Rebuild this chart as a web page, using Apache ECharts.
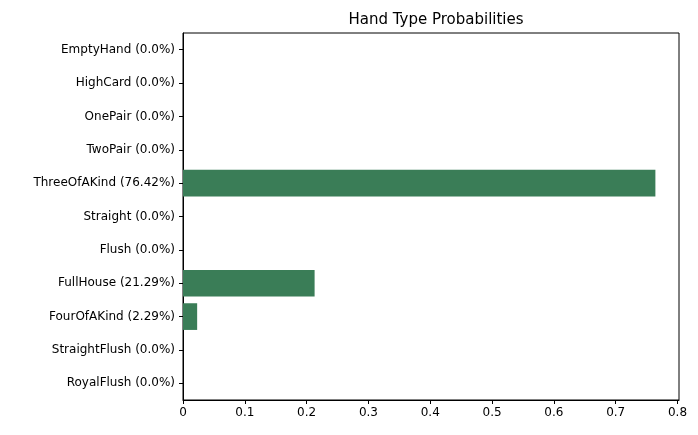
<!DOCTYPE html>
<html><head><meta charset="utf-8">
<script src="https://cdn.jsdelivr.net/npm/echarts@6/dist/echarts.min.js"></script>
<style>html,body{margin:0;padding:0;background:#fff}#c{width:698px;height:435px}</style>
</head><body><div id="c"></div>
<script>
const categories = ["EmptyHand (0.0%)","HighCard (0.0%)","OnePair (0.0%)","TwoPair (0.0%)","ThreeOfAKind (76.42%)","Straight (0.0%)","Flush (0.0%)","FullHouse (21.29%)","FourOfAKind (2.29%)","StraightFlush (0.0%)","RoyalFlush (0.0%)"];
const values = [0,0,0,0,0.7642,0,0,0.2129,0.0229,0,0];
const chart = echarts.init(document.getElementById('c'));
const font = 'DejaVu Sans';
chart.setOption({
  animation:false,
  title:{text:'Hand Type Probabilities',left:431,top:8,textAlign:'center',textStyle:{fontFamily:font,fontSize:15,fontWeight:'normal',color:'#000'}},
  grid:{left:183,right:19,top:33,bottom:35,containLabel:false,show:true,borderColor:'#000',borderWidth:1},
  xAxis:{type:'value',min:0,max:0.8024,interval:0.1,
    axisLine:{show:true,lineStyle:{color:'#000'}},axisTick:{show:true,length:4,lineStyle:{color:'#000'}},
    splitLine:{show:false},
    axisLabel:{showMaxLabel:false,color:'#000',fontFamily:font,fontSize:12,margin:7,formatter:v=>+v.toFixed(1)+''}},
  yAxis:{type:'category',data:categories,inverse:true,
    axisLine:{show:true,lineStyle:{color:'#000'}},axisTick:{show:true,length:4,alignWithLabel:true,lineStyle:{color:'#000'}},
    axisLabel:{color:'#000',fontFamily:font,fontSize:12,margin:8}},
  series:[{type:'bar',data:values,barCategoryGap:'20%',itemStyle:{color:'#3a7d57'}}]
});
</script></body></html>
